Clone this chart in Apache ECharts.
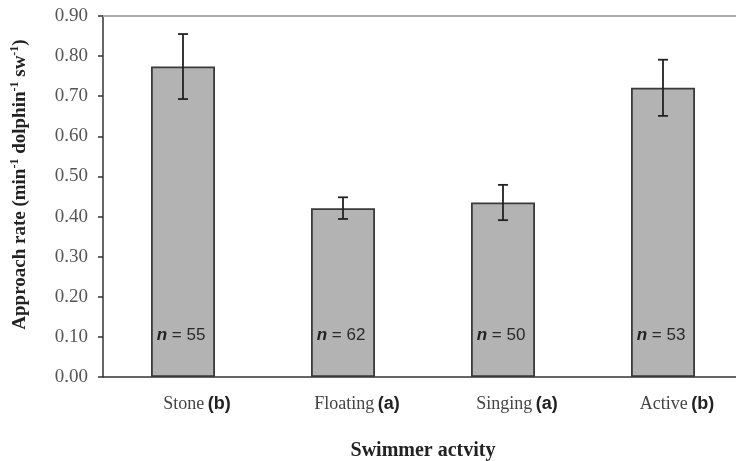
<!DOCTYPE html>
<html>
<head>
<meta charset="utf-8">
<script src="https://cdn.jsdelivr.net/npm/echarts@6/dist/echarts.min.js"></script>
<style>html,body{margin:0;padding:0;background:#fff;overflow:hidden;width:736px;height:461px}#wrap{width:736px;height:461px;overflow:hidden;position:relative}#c{width:743px;height:461px;position:absolute;left:0;top:0}</style>
</head>
<body>
<div id="wrap"><div id="c"></div></div>
<script>
var categories = ['Stone', 'Floating', 'Singing', 'Active'];
var groups = ['b', 'a', 'a', 'b'];
var rates = [0.774, 0.421, 0.435, 0.721];
var errors = [0.081, 0.027, 0.044, 0.070];
var sampleSizes = [55, 62, 50, 53];
var labelValue = 0.105;

var chart = echarts.init(document.getElementById('c'));
var errData = rates.map(function (v, i) { return [i, v - errors[i], v + errors[i]]; });
var nData = sampleSizes.map(function (n, i) { return [i, labelValue, n]; });

chart.setOption({
  animation: false,
  grid: { left: 103, top: 16, right: 0, height: 361, containLabel: false, outerBoundsMode: 'none' },
  xAxis: [{
    type: 'category',
    data: categories,
    axisLine: { lineStyle: { color: '#333', width: 1.5 } },
    axisTick: { length: 5, lineStyle: { color: '#333', width: 1.5 } },
    axisLabel: {
      margin: 18,
      padding: [0, 0, 0, 28],
      formatter: function (v, i) { return '{t|' + v + '} {b|(' + groups[i] + ')}'; },
      rich: {
        t: { fontFamily: 'Liberation Serif', fontSize: 18, color: '#444' },
        b: { fontFamily: 'Liberation Sans', fontWeight: 'bold', fontSize: 18, color: '#222' }
      }
    },
    name: 'Swimmer actvity',
    nameLocation: 'middle',
    nameGap: 64,
    nameTextStyle: { fontFamily: 'Liberation Serif', fontWeight: 'bold', fontSize: 20, color: '#222' }
  }, {
    type: 'category',
    position: 'top',
    data: categories,
    axisLine: { lineStyle: { color: '#aaa', width: 2 } },
    axisTick: { show: false },
    axisLabel: { show: false }
  }],
  yAxis: {
    type: 'value',
    min: 0, max: 0.9, interval: 0.1,
    axisLine: { show: true, lineStyle: { color: '#333', width: 1.5 } },
    axisTick: { show: true, length: 5, lineStyle: { color: '#333', width: 1.5 } },
    splitLine: { show: false },
    axisLabel: {
      margin: 15,
      fontFamily: 'Liberation Serif', fontSize: 19, color: '#555',
      formatter: function (v) { return v.toFixed(2); }
    },
    name: 'Approach rate (min{s|-1} dolphin{s|-1} sw{s|-1})',
    nameLocation: 'middle',
    nameRotate: 90,
    nameGap: 72,
    nameTextStyle: {
      fontFamily: 'Liberation Serif', fontWeight: 'bold', fontSize: 19, color: '#222',
      padding: [0, 0, 0, 24],
      rich: {
        s: { fontFamily: 'Liberation Serif', fontWeight: 'bold', fontSize: 12, color: '#222', verticalAlign: 'top', padding: [0, 0, 10, 0] }
      }
    }
  },
  series: [{
    type: 'bar',
    data: rates,
    barWidth: 64,
    itemStyle: { color: '#b3b3b3', borderColor: '#3a3a3a', borderWidth: 1.8 },
    z: 2
  }, {
    type: 'custom',
    data: errData,
    z: 3,
    renderItem: function (params, api) {
      var x = api.value(0);
      var lo = api.coord([x, api.value(1)]);
      var hi = api.coord([x, api.value(2)]);
      var w = 5;
      var st = { stroke: '#222', lineWidth: 1.8 };
      return {
        type: 'group',
        children: [
          { type: 'line', shape: { x1: lo[0], y1: lo[1], x2: hi[0], y2: hi[1] }, style: st },
          { type: 'line', shape: { x1: lo[0] - w, y1: lo[1], x2: lo[0] + w, y2: lo[1] }, style: st },
          { type: 'line', shape: { x1: hi[0] - w, y1: hi[1], x2: hi[0] + w, y2: hi[1] }, style: st }
        ]
      };
    }
  }, {
    type: 'custom',
    data: nData,
    z: 4,
    renderItem: function (params, api) {
      var p = api.coord([api.value(0), api.value(1)]);
      return {
        type: 'text',
        x: p[0] - 2, y: p[1],
        style: {
          text: '{i|n} = ' + api.value(2),
          align: 'center', verticalAlign: 'middle',
          fontFamily: 'Liberation Sans', fontSize: 17, fill: '#2a2a2a',
          rich: { i: { fontFamily: 'Liberation Sans', fontStyle: 'italic', fontWeight: 'bold', fontSize: 17, fill: '#222' } }
        }
      };
    }
  }]
});
</script>
</body>
</html>
